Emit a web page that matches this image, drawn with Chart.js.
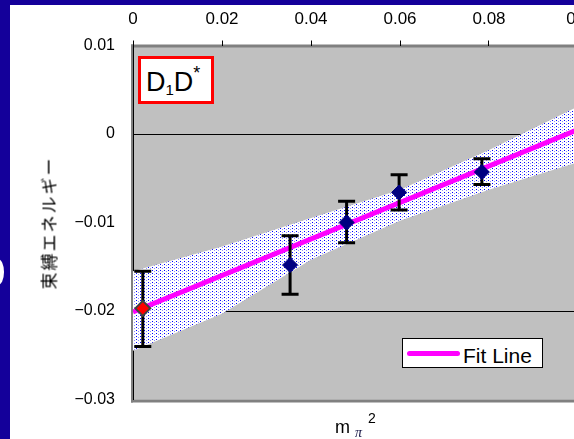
<!DOCTYPE html>
<html>
<head>
<meta charset="utf-8">
<script src="https://cdn.jsdelivr.net/npm/chart.js@4.4.1/dist/chart.umd.min.js"></script>
<style>
  html, body { margin: 0; padding: 0; }
  body { width: 574px; height: 439px; overflow: hidden; position: relative; background: #fff; font-family: "Liberation Sans", Arial, sans-serif; }
  .frame { position: absolute; background: #14009a; }
  #chart { position: absolute; left: 0; top: 0; }
  .label { position: absolute; white-space: nowrap; line-height: 1; color: #000; }
  #tag { position: absolute; left: 138px; top: 56px; width: 76px; height: 48px; box-sizing: border-box; border: 3px solid #ff0000; background: #fff; }
  #legend { position: absolute; left: 402px; top: 338px; width: 141px; height: 30px; box-sizing: border-box; border: 1px solid #000; background: #fff; }
</style>
</head>
<body>
<div class="frame" style="left:0;top:0;width:574px;height:5px"></div>
<div class="frame" style="left:0;top:0;width:10px;height:439px"></div>
<div style="position:absolute;left:-8px;top:259px;width:12px;height:26px;border-radius:50%;background:#fff"></div>

<canvas id="chart" width="620" height="439"></canvas>

<div id="tag">
  <span class="label" style="left:5px;top:10px;font-size:27px">D<span style="font-size:15px;position:relative;top:4px">1</span>D<span style="font-size:18px;position:relative;top:-12px">*</span></span>
</div>

<div id="legend">
  <div style="position:absolute;left:4px;top:12px;width:53px;height:5px;background:#ff00ff;border-radius:3px"></div>
  <span class="label" style="left:60px;top:6px;font-size:21px">Fit Line</span>
</div>

<div class="label" style="left:48px;top:223px;font-size:17px;font-family:'Noto Sans CJK JP',sans-serif;letter-spacing:2px;transform:translate(-50%,-50%) rotate(-90deg)">束縛エネルギー</div>

<span class="label" style="left:335px;top:418px;font-size:18px">m</span>
<span class="label" style="left:355px;top:426px;font-size:14px;font-family:'Liberation Serif',serif;font-style:italic;color:#101040">π</span>
<span class="label" style="left:368px;top:411px;font-size:14px">2</span>

<script>
// measured points (m_pi^2, binding energy) with error bar ends
const massSq  = [0.0022, 0.0353, 0.0480, 0.0598, 0.0784];
const energy  = [-0.0197, -0.0148, -0.0100, -0.0066, -0.0043];
const errHigh = [-0.0155, -0.0115, -0.0076, -0.0046, -0.0028];
const errLow  = [-0.0240, -0.0181, -0.0123, -0.0086, -0.0057];

// fit line and its error band
const fitX = [0, 0.1];
const fitY = [-0.0201, 0.0005];
const bandX     = [0, 0.02, 0.04, 0.06, 0.08, 0.1];
const bandUpper = [-0.0155, -0.0127, -0.0095, -0.0063, -0.0018, 0.0031];
const bandLower = [-0.0245, -0.0203, -0.0142, -0.0098, -0.0063, -0.0032];

const xTickLabels = ["0", "0.02", "0.04", "0.06", "0.08", "0.1"];
const yTickLabels = ["\u22120.03", "\u22120.02", "\u22120.01", "0", "0.01"];

const pts = (xs, ys) => xs.map((x, i) => ({ x: x, y: ys[i] }));

// white + sparse blue dots for the band
function dotPattern() {
  const c = document.createElement("canvas");
  c.width = 4; c.height = 3;
  const g = c.getContext("2d");
  g.fillStyle = "#fff";
  g.fillRect(0, 0, 4, 3);
  g.fillStyle = "#0000ff";
  g.fillRect(0, 0, 1, 1);
  g.fillStyle = "#9090ff";
  g.fillRect(2, 1, 1, 1);
  return g.createPattern(c, "repeat");
}

const plotBox = {
  id: "plotBox",
  beforeDraw(chart) {
    const { ctx, chartArea: a } = chart;
    ctx.save();
    ctx.fillStyle = "#c0c0c0";
    ctx.fillRect(a.left, a.top, a.right - a.left, a.bottom - a.top);
    ctx.fillStyle = "#808080";
    ctx.fillRect(a.left - 2, a.top - 1, a.right - a.left + 2, 3);
    ctx.fillRect(a.left - 2, a.bottom, a.right - a.left + 2, 3);
    ctx.fillRect(a.left - 2, a.top - 1, 2, a.bottom - a.top + 4);
    ctx.restore();
  }
};

const errorBars = {
  id: "errorBars",
  afterDatasetDraw(chart, args) {
    if (args.index !== 1) return;
    const { ctx, scales } = chart;
    ctx.save();
    ctx.strokeStyle = "#000";
    ctx.lineWidth = 3;
    massSq.forEach((m, i) => {
      const x = scales.x.getPixelForValue(m);
      const y1 = scales.y.getPixelForValue(errHigh[i]);
      const y2 = scales.y.getPixelForValue(errLow[i]);
      ctx.beginPath();
      ctx.moveTo(x, y1); ctx.lineTo(x, y2);
      ctx.moveTo(x - 8.5, y1); ctx.lineTo(x + 8.5, y1);
      ctx.moveTo(x - 8.5, y2); ctx.lineTo(x + 8.5, y2);
      ctx.stroke();
    });
    ctx.restore();
  }
};

new Chart(document.getElementById("chart"), {
  type: "scatter",
  data: {
    datasets: [
      {
        label: "data",
        data: pts(massSq, energy),
        pointStyle: "rectRot",
        pointRadius: 7.5,
        backgroundColor: massSq.map((m, i) => i === 0 ? "#ff0000" : "#000080"),
        borderColor: massSq.map((m, i) => i === 0 ? "#404040" : "#000080"),
        borderWidth: massSq.map((m, i) => i === 0 ? 2 : 1),
        order: 0
      },
      {
        label: "Fit Line",
        data: pts(fitX, fitY),
        showLine: true,
        borderColor: "#ff00ff",
        borderWidth: 5,
        pointRadius: 0,
        order: 1
      },
      {
        label: "band upper",
        data: pts(bandX, bandUpper),
        showLine: true,
        borderWidth: 0,
        borderColor: "transparent",
        pointRadius: 0,
        backgroundColor: dotPattern(),
        fill: "+1",
        order: 2
      },
      {
        label: "band lower",
        data: pts(bandX, bandLower),
        showLine: true,
        borderWidth: 0,
        borderColor: "transparent",
        pointRadius: 0,
        fill: false,
        order: 3
      }
    ]
  },
  options: {
    responsive: false,
    animation: false,
    devicePixelRatio: 1,
    layout: { padding: { left: 0, top: 0, right: 42, bottom: 39.5 } },
    plugins: {
      legend: { display: false },
      tooltip: { enabled: false }
    },
    scales: {
      x: {
        type: "linear",
        position: "top",
        min: 0,
        max: 0.1,
        afterFit: s => { s.height = 45.5; },
        border: { display: false },
        grid: { drawOnChartArea: false, drawTicks: true, tickLength: 5, color: "#000", tickColor: "#000" },
        ticks: {
          stepSize: 0.02,
          padding: 11,
          color: "#000",
          font: { family: "'Liberation Sans', Arial", size: 17 },
          callback: (v, i) => xTickLabels[i]
        }
      },
      y: {
        min: -0.03,
        max: 0.01,
        afterFit: s => { s.width = 133; },
        border: { display: true, color: "#000", width: 1 },
        grid: {
          drawTicks: false,
          lineWidth: 1,
          color: c => (c.tick && (Math.abs(c.tick.value) < 1e-9 || Math.abs(c.tick.value + 0.02) < 1e-9)) ? "#000" : "transparent"
        },
        ticks: {
          stepSize: 0.01,
          padding: 18,
          color: "#000",
          font: { family: "'Liberation Sans', Arial", size: 16 },
          callback: (v, i) => yTickLabels[i]
        }
      }
    }
  },
  plugins: [plotBox, errorBars]
});
</script>
</body>
</html>
